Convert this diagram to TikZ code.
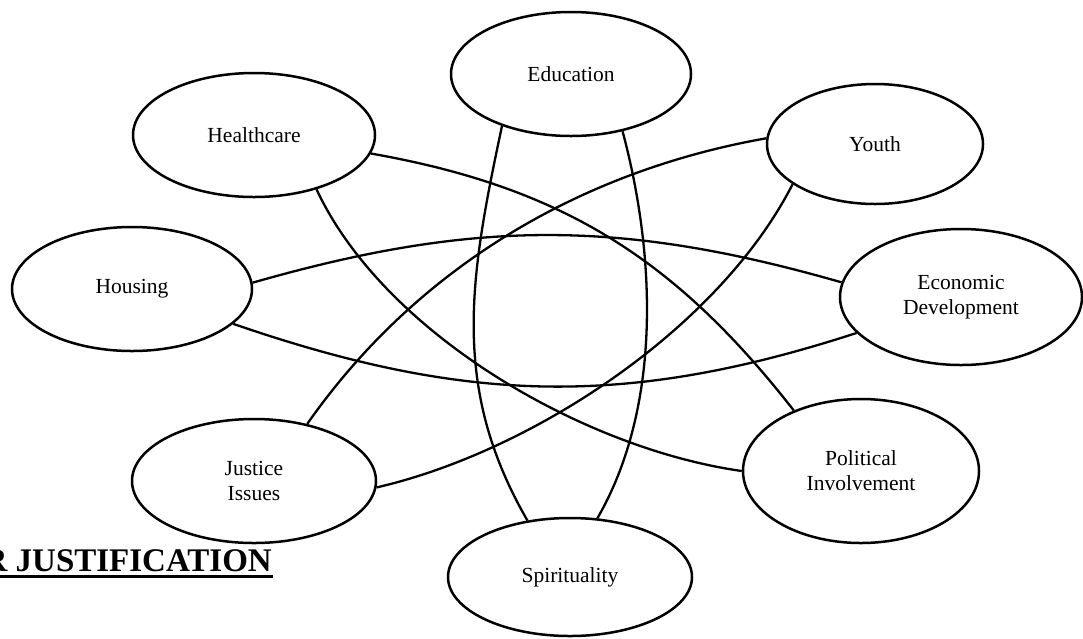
\documentclass[tikz,border=0pt]{standalone}
\usepackage{fontspec}
\setmainfont{Liberation Serif}
\usepackage{tikz}
\usetikzlibrary{positioning, shapes}

\begin{document}
\begin{tikzpicture}[x=1pt, y=-1pt, every node/.style={font=\fontsize{21.5}{25}\selectfont},
	area/.style={ellipse, draw, line width=2.5pt, inner sep=0pt, align=center},
	link/.style={line width=2.3pt}]
	\useasboundingbox (0,0) rectangle (1083,638);
		\node[area, minimum width=240pt, minimum height=124pt] (edu) at (571,74) {Education};
		\node[area, minimum width=242pt, minimum height=124pt] (health) at (254,135) {Healthcare};
		\node[area, minimum width=216pt, minimum height=120pt] (youth) at (875,144) {Youth};
		\node[area, minimum width=240pt, minimum height=124pt] (house) at (132,289) {Housing};
		\node[area, minimum width=242pt, minimum height=136pt] (econ) at (961,297) {Economic\\Development};
		\node[area, minimum width=244pt, minimum height=124pt] (justice) at (254,481) {Justice\\Issues};
		\node[area, minimum width=236pt, minimum height=144pt] (polit) at (861,471) {Political\\Involvement};
		\node[area, minimum width=244pt, minimum height=118pt] (spirit) at (570,577) {Spirituality};

		\node[anchor=base east, inner sep=0pt, font=\fontsize{33}{36}\selectfont\bfseries] (title) at (272,571) {R JUSTIFICATION};
		\draw[line width=3pt] ([yshift=-5.5pt]title.base west) -- ([yshift=-5.5pt, xshift=1pt]title.base east);

		% education -- spirituality
		\draw[link] (edu.217) to[out=-102, in=120] (spirit.127);
		\draw[link] (edu.312) to[out=-75, in=60, looseness=0.85] (spirit.65);
		% housing -- economic development
		\draw[link] (house.3) to[out=16, in=164] (econ.173);
		\draw[link] (house.-19) to[out=-19, in=-162] (econ.199);
		% healthcare -- political involvement
		\draw[link] (health.-9) to[out=-10, in=128] (polit.138);
		\draw[link] (health.-41) to[out=-65, in=172, looseness=0.8] (polit.180);
		% youth -- justice issues
		\draw[link] (youth.177) to[out=190, in=55, looseness=0.9] (justice.47);
		\draw[link] (youth.206) to[out=-117, in=13, looseness=0.8] (justice.-3);
\end{tikzpicture}
\end{document}
